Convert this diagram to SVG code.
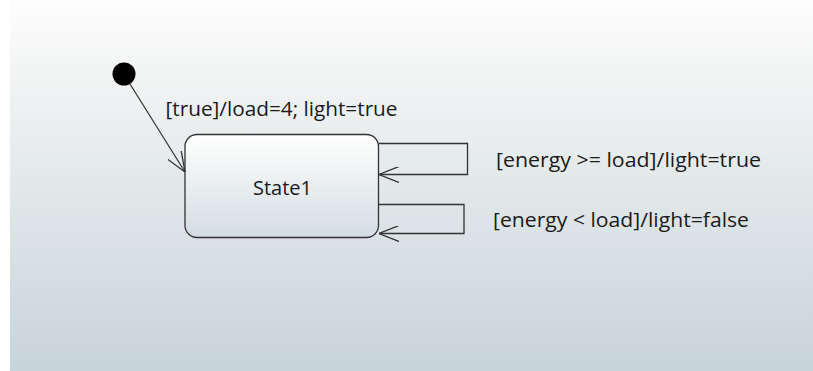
<svg xmlns="http://www.w3.org/2000/svg" width="813" height="371" viewBox="0 0 813 371">
<defs>
<linearGradient id="bg" x1="0" y1="0" x2="0" y2="1">
<stop offset="0" stop-color="#fdfdfd"/>
<stop offset="0.15" stop-color="#f5f6f6"/>
<stop offset="1" stop-color="#c7d4d9"/>
</linearGradient>
<linearGradient id="st" x1="0" y1="0" x2="0" y2="1">
<stop offset="0" stop-color="#ffffff"/>
<stop offset="1" stop-color="#d3dde1"/>
</linearGradient>
<marker id="arr" viewBox="0 0 20 16" refX="20" refY="8" markerWidth="20" markerHeight="16" markerUnits="userSpaceOnUse" orient="auto">
<path d="M0,0 L20,8 L0,16" fill="none" stroke="#333" stroke-width="1.3"/>
</marker>
<style>
.lbl{font-family:"Open Sans","Noto Sans","Liberation Sans",sans-serif;font-size:19.5px;fill:#1a1a1a}
.edge{fill:none;stroke:#333;stroke-width:1.3}
</style>
</defs>
<rect x="0" y="0" width="813" height="371" fill="#ffffff"/>
<rect x="10" y="0" width="803" height="371" fill="url(#bg)"/>
<g id="initial">
<circle cx="124" cy="74" r="11.5" fill="#000"/>
</g>
<g id="State1">
<rect x="185" y="134.5" width="193.5" height="103" rx="12" ry="12" fill="url(#st)" stroke="#333" stroke-width="1.3"/>
<text class="lbl" x="253" y="195" textLength="59" lengthAdjust="spacingAndGlyphs">State1</text>
</g>
<g id="connectors">
<path class="edge" d="M130,84 L185,172" marker-end="url(#arr)"/>
<path class="edge" d="M379,143.5 H467.5 V174.5 H379" marker-end="url(#arr)"/>
<path class="edge" d="M379,204.5 H464 V233.5 H379" marker-end="url(#arr)"/>
</g>
<g id="labels">
<text class="lbl" x="165.5" y="115.5" textLength="232" lengthAdjust="spacingAndGlyphs">[true]/load=4; light=true</text>
<text class="lbl" x="496" y="166.5" textLength="265" lengthAdjust="spacingAndGlyphs">[energy &gt;= load]/light=true</text>
<text class="lbl" x="493" y="226.5" textLength="256" lengthAdjust="spacingAndGlyphs">[energy &lt; load]/light=false</text>
</g>
</svg>
